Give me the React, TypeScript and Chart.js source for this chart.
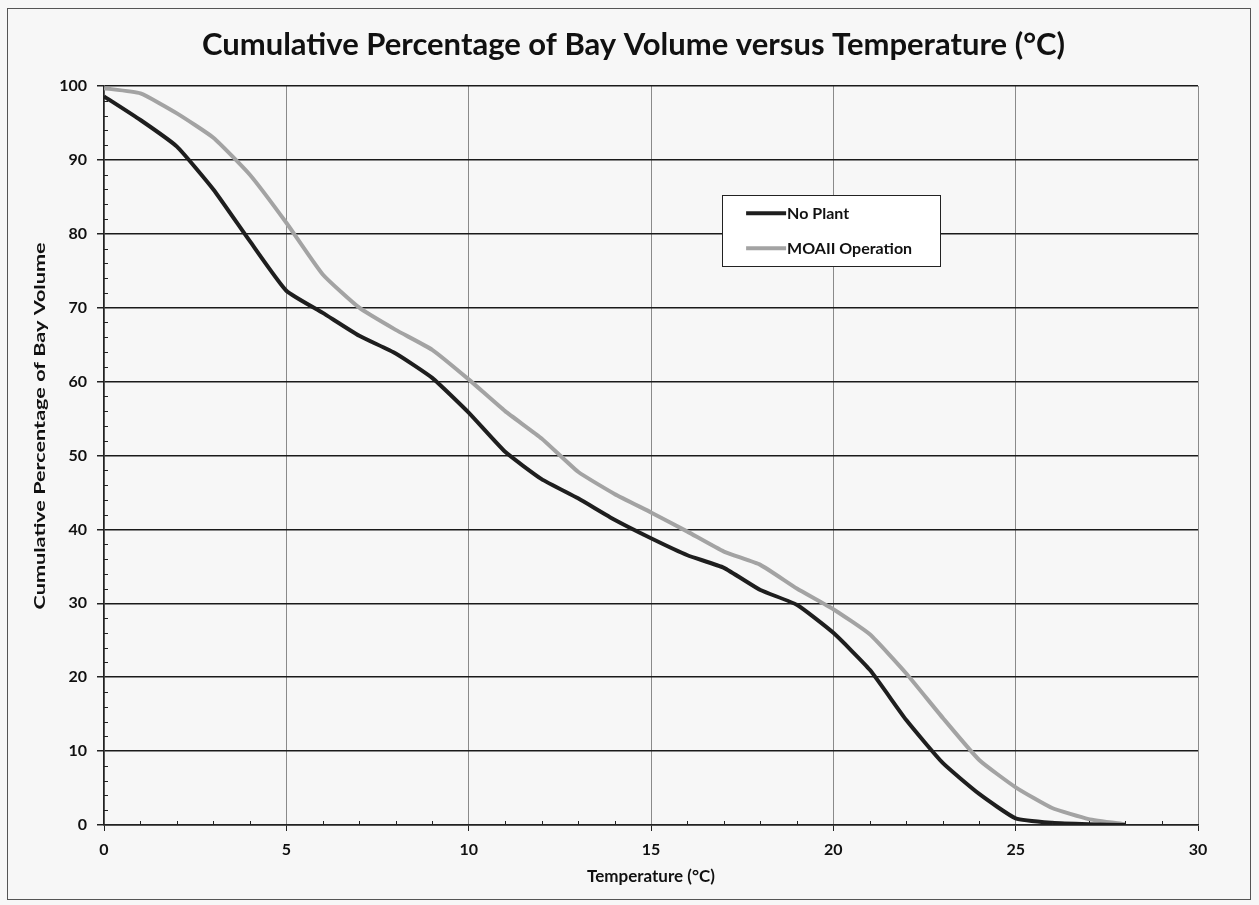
import React, { useEffect, useRef } from "react";
import { Chart, registerables } from "chart.js";

Chart.register(...registerables);

const temperatures = [0, 1, 2, 3, 4, 5, 6, 7, 8, 9, 10, 11, 12, 13, 14, 15, 16, 17, 18, 19, 20, 21, 22, 23, 24, 25, 26, 27, 28];
const noPlant = [98.6, 95.4, 91.8, 86, 79, 72.3, 69.3, 66.2, 63.8, 60.5, 55.8, 50.5, 46.8, 44.2, 41.3, 38.8, 36.5, 34.8, 31.8, 29.8, 26, 21, 14.2, 8.4, 4.2, 0.9, 0.3, 0.1, 0];
const moaii = [99.7, 99, 96.3, 93, 88, 81.5, 74.5, 70, 67, 64.3, 60.3, 56, 52.3, 47.8, 44.8, 42.3, 39.7, 37, 35.2, 32, 29.2, 25.8, 20.5, 14.5, 8.8, 5.1, 2.3, 0.8, 0.1];
const seriesLabels = ["No Plant", "MOAII Operation"];
const xTicks = [0, 5, 10, 15, 20, 25, 30];
const yTicks = [0, 10, 20, 30, 40, 50, 60, 70, 80, 90, 100];
const chartTitle = "Cumulative Percentage of Bay Volume versus Temperature (°C)";
const yTitle = "Cumulative Percentage of Bay Volume";

const FONT = "Lato, 'Open Sans', sans-serif";

const minorTicks = {
  id: "minorTicks",
  afterDraw(chart: any) {
    const { ctx, scales, chartArea } = chart;
    const xs = scales.x;
    const ys = scales.y;
    ctx.save();
    ctx.strokeStyle = "#222";
    ctx.lineWidth = 1;
    for (let v = xs.min; v <= xs.max; v += 1) {
      if (v % 5 === 0) continue;
      const px = Math.round(xs.getPixelForValue(v)) + 0.5;
      ctx.beginPath();
      ctx.moveTo(px, chartArea.bottom);
      ctx.lineTo(px, chartArea.bottom - 4);
      ctx.stroke();
    }
    for (let v = ys.min; v <= ys.max; v += 2) {
      if (v % 10 === 0) continue;
      const py = Math.round(ys.getPixelForValue(v)) + 0.5;
      ctx.beginPath();
      ctx.moveTo(chartArea.left, py);
      ctx.lineTo(chartArea.left + 4, py);
      ctx.stroke();
    }
    ctx.restore();
  },
};

const titles = {
  id: "titles",
  afterDraw(chart: any) {
    const { ctx, chartArea } = chart;
    const h = chartArea.bottom - chartArea.top;
    ctx.save();
    ctx.fillStyle = "#111";
    ctx.textAlign = "center";
    ctx.textBaseline = "middle";
    ctx.font = `bold 31px ${FONT}`;
    ctx.fillText(chartTitle, chart.width / 2 + 4, chartArea.top - 41);

    ctx.font = `bold 15px ${FONT}`;
    const tw = ctx.measureText(yTitle).width;
    const sx = 367 / tw;
    ctx.translate(chartArea.left - 64, chartArea.top + h * 0.46);
    ctx.rotate(-Math.PI / 2);
    ctx.scale(sx, 1);
    ctx.fillText(yTitle, 0, 0);
    ctx.restore();
  },
};

const boxLegend = {
  id: "boxLegend",
  afterDraw(chart: any) {
    const { ctx, chartArea } = chart;
    const w = chartArea.right - chartArea.left;
    const h = chartArea.bottom - chartArea.top;
    const bx = chartArea.left + w * 0.565;
    const by = chartArea.top + h * 0.148;
    const bw = 218;
    const bh = 71;
    ctx.save();
    ctx.fillStyle = "#ffffff";
    ctx.fillRect(bx, by, bw, bh);
    ctx.strokeStyle = "#222";
    ctx.lineWidth = 1;
    ctx.strokeRect(Math.round(bx) + 0.5, Math.round(by) + 0.5, bw, bh);
    ctx.font = `bold 16px ${FONT}`;
    ctx.textBaseline = "middle";
    chart.data.datasets.forEach((ds: any, i: number) => {
      const cy = by + 18 + i * 35;
      ctx.strokeStyle = ds.borderColor;
      ctx.lineWidth = ds.borderWidth;
      ctx.beginPath();
      ctx.moveTo(bx + 24, cy);
      ctx.lineTo(bx + 64, cy);
      ctx.stroke();
      ctx.fillStyle = "#111";
      ctx.fillText(ds.label, bx + 65, cy);
    });
    ctx.restore();
  },
};

export default function App() {
  const ref = useRef<HTMLCanvasElement>(null);

  useEffect(() => {
    document.body.style.margin = "0";
    const chart = new Chart(ref.current!, {
      type: "line",
      data: {
        datasets: [
          {
            label: seriesLabels[0],
            data: temperatures.map((t, i) => ({ x: t, y: noPlant[i] })),
            borderColor: "#1e1e1e",
            borderWidth: 4,
            pointRadius: 0,
            tension: 0.15,
            fill: false,
          },
          {
            label: seriesLabels[1],
            data: temperatures.map((t, i) => ({ x: t, y: moaii[i] })),
            borderColor: "#a3a3a3",
            borderWidth: 4,
            pointRadius: 0,
            tension: 0.15,
            fill: false,
          },
        ],
      },
      options: {
        animation: false,
        responsive: false,
        layout: { padding: { left: 22, right: 61, top: 86, bottom: 18 } },
        plugins: {
          legend: { display: false },
          tooltip: { enabled: false },
          title: { display: false },
        },
        scales: {
          x: {
            type: "linear",
            min: 0,
            max: 30,
            afterBuildTicks: (s: any) => {
              s.ticks = xTicks.map((v) => ({ value: v }));
            },
            ticks: {
              color: "#111",
              font: { family: FONT, size: 16, weight: "bold" },
              padding: 9,
              maxRotation: 0,
            },
            grid: {
              color: "#8a8a8a",
              lineWidth: 1,
              tickColor: "#222",
              tickLength: 6,
            },
            border: { color: "#222", width: 1.5 },
            title: {
              display: true,
              text: "Temperature (°C)",
              color: "#111",
              font: { family: FONT, size: 17, weight: "bold" },
              padding: { top: 4, bottom: 0 },
            },
            afterFit: (s: any) => {
              s.height = 62;
            },
          },
          y: {
            type: "linear",
            min: 0,
            max: 100,
            afterBuildTicks: (s: any) => {
              s.ticks = yTicks.map((v) => ({ value: v }));
            },
            ticks: {
              color: "#111",
              font: { family: FONT, size: 16, weight: "bold" },
              padding: 10,
            },
            grid: {
              color: "#1a1a1a",
              lineWidth: 1.5,
              tickColor: "#222",
              tickLength: 7,
            },
            border: { color: "#222", width: 1.5 },
            afterFit: (s: any) => {
              s.width = 82;
            },
          },
        },
      },
      plugins: [minorTicks, boxLegend, titles],
    });
    return () => chart.destroy();
  }, []);

  return (
    <div
      style={{
        position: "relative",
        width: 1259,
        height: 905,
        background: "#f7f7f7",
        overflow: "hidden",
      }}
    >
      <div
        style={{
          position: "absolute",
          left: 7,
          top: 8,
          width: 1244,
          height: 892,
          border: "1px solid #555",
          boxSizing: "border-box",
        }}
      />
      <canvas
        ref={ref}
        width={1259}
        height={905}
        style={{ position: "absolute", left: 0, top: 0 }}
      />
    </div>
  );
}
